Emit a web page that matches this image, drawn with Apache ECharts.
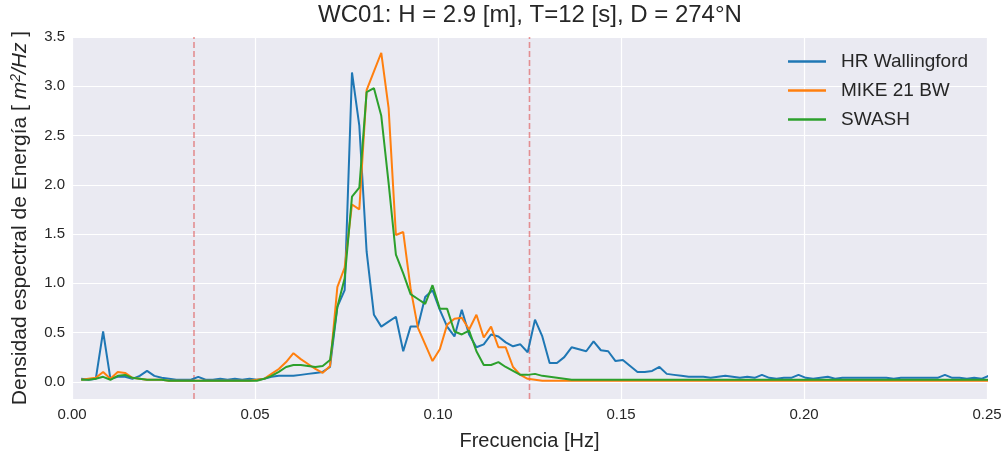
<!DOCTYPE html>
<html>
<head>
<meta charset="utf-8">
<script src="https://cdn.jsdelivr.net/npm/echarts@6/dist/echarts.min.js"></script>
<style>html,body{margin:0;padding:0;background:#fff;}#c{width:1008px;height:456px;}</style>
</head>
<body>
<div id="c"></div>
<script>
// Frequencies [Hz]
var freq = [0.0025,0.0045,0.0065,0.0085,0.0105,0.0125,0.0145,0.0165,0.0185,0.0205,
0.0225,0.0245,0.0265,0.0285,0.0305,0.0325,0.0345,0.0365,0.0385,0.0405,
0.0425,0.0445,0.0465,0.0485,0.0505,0.0525,0.0545,0.0565,0.0585,0.0605,
0.0625,0.0645,0.0665,0.0685,0.0705,0.0725,0.0745,0.0765,0.0785,0.0805,
0.0825,0.0845,0.0865,0.0885,0.0905,0.0925,0.0945,0.0965,0.0985,0.1005,
0.1025,0.1045,0.1065,0.1085,0.1105,0.1125,0.1145,0.1165,0.1185,0.1205,
0.1225,0.1245,0.1265,0.1285,0.1305,0.1325,0.1345,0.1365,0.1385,0.1405,
0.1425,0.1445,0.1465,0.1485,0.1505,0.1525,0.1545,0.1565,0.1585,0.1605,
0.1625,0.1645,0.1665,0.1685,0.1705,0.1725,0.1745,0.1765,0.1785,0.1805,
0.1825,0.1845,0.1865,0.1885,0.1905,0.1925,0.1945,0.1965,0.1985,0.2005,
0.2025,0.2045,0.2065,0.2085,0.2105,0.2125,0.2145,0.2165,0.2185,0.2205,
0.2225,0.2245,0.2265,0.2285,0.2305,0.2325,0.2345,0.2365,0.2385,0.2405,
0.2425,0.2445,0.2465,0.2485,0.2505];

// HR Wallingford
var hrWallingford = [0.03,0.02,0.03,0.51,0.03,0.05,0.05,0.03,0.06,0.11,
0.06,0.04,0.03,0.02,0.02,0.02,0.05,0.02,0.02,0.03,
0.02,0.03,0.02,0.03,0.02,0.03,0.05,0.06,0.06,0.06,
0.07,0.08,0.09,0.10,0.15,0.76,0.93,3.14,2.60,1.32,
0.68,0.56,0.61,0.66,0.31,0.56,0.56,0.86,0.93,0.73,
0.56,0.46,0.73,0.48,0.35,0.38,0.48,0.46,0.40,0.36,
0.38,0.30,0.63,0.46,0.19,0.19,0.25,0.35,0.33,0.31,
0.41,0.32,0.31,0.21,0.22,0.16,0.10,0.10,0.11,0.15,
0.08,0.07,0.06,0.05,0.05,0.05,0.04,0.05,0.06,0.05,
0.04,0.05,0.04,0.07,0.04,0.03,0.04,0.04,0.07,0.04,
0.03,0.04,0.05,0.03,0.04,0.04,0.04,0.04,0.04,0.04,
0.04,0.03,0.04,0.04,0.04,0.04,0.04,0.04,0.07,0.04,
0.04,0.03,0.04,0.03,0.06];

// MIKE 21 BW
var mike21bw = [0.02,0.03,0.04,0.10,0.03,0.10,0.09,0.04,0.03,0.02,
0.02,0.02,0.01,0.01,0.01,0.01,0.01,0.01,0.01,0.01,
0.01,0.01,0.01,0.01,0.02,0.03,0.08,0.13,0.20,0.29,
0.23,0.18,0.13,0.09,0.16,0.96,1.16,1.80,1.75,2.96,
3.15,3.34,2.78,1.49,1.52,0.95,0.55,0.38,0.21,0.33,
0.58,0.64,0.65,0.53,0.68,0.45,0.56,0.35,0.35,0.15,
0.07,0.03,0.02,0.01,0.01,0.01,0.01,0.01,0.01,0.01,
0.01,0.01,0.01,0.01,0.01,0.01,0.01,0.01,0.01,0.01,
0.01,0.01,0.01,0.01,0.01,0.01,0.01,0.01,0.01,0.01,
0.01,0.01,0.01,0.01,0.01,0.01,0.01,0.01,0.01,0.01,
0.01,0.01,0.01,0.01,0.01,0.01,0.01,0.01,0.01,0.01,
0.01,0.01,0.01,0.01,0.01,0.01,0.01,0.01,0.01,0.01,
0.01,0.01,0.01,0.01,0.01];

// SWASH
var swash = [0.02,0.02,0.03,0.05,0.02,0.06,0.07,0.04,0.03,0.02,
0.02,0.02,0.01,0.01,0.01,0.01,0.01,0.01,0.01,0.01,
0.01,0.01,0.01,0.01,0.01,0.03,0.06,0.10,0.15,0.17,
0.17,0.16,0.15,0.16,0.22,0.76,1.05,1.88,1.97,2.94,
2.98,2.70,2.02,1.29,1.10,0.89,0.84,0.79,0.98,0.74,
0.74,0.51,0.48,0.52,0.31,0.17,0.17,0.20,0.15,0.11,
0.07,0.07,0.08,0.06,0.05,0.04,0.03,0.02,0.02,0.02,
0.02,0.02,0.02,0.02,0.02,0.02,0.02,0.02,0.02,0.02,
0.02,0.02,0.02,0.02,0.02,0.02,0.02,0.02,0.02,0.02,
0.02,0.02,0.02,0.02,0.02,0.02,0.02,0.02,0.02,0.02,
0.02,0.02,0.02,0.02,0.02,0.02,0.02,0.02,0.02,0.02,
0.02,0.02,0.02,0.02,0.02,0.02,0.02,0.02,0.02,0.02,
0.02,0.02,0.02,0.02,0.02];

var yTicks = [0.0,0.5,1.0,1.5,2.0,2.5,3.0,3.5];
var yRange = [-0.175, 3.5];
var cutoffFreqs = [1/30, 0.125];
var seriesNames = ['HR Wallingford','MIKE 21 BW','SWASH'];
var seriesColors = ['#1f77b4','#ff7f0e','#2ca02c'];

function pairs(vals){ return vals.map(function(v,i){ return [freq[i], v]; }); }

var FONT = "'Liberation Sans', Arial, sans-serif";
var TXT = '#262626';

var chart = echarts.init(document.getElementById('c'), null, {renderer:'canvas'});
var dataSets = [hrWallingford, mike21bw, swash];
var series = [];
cutoffFreqs.forEach(function(f, j){
  series.push({
    name: 'cutoff' + j, type: 'line', data: [[f, yRange[0]], [f, yRange[1]]],
    symbol: 'none', silent: true, z: 2, animation: false,
    lineStyle: {color: 'rgba(222,80,80,0.6)', type: [6,3], width: 1.6}
  });
});
dataSets.forEach(function(d, i){
  series.push({
    name: seriesNames[i], type: 'line', data: pairs(d), symbol: 'none',
    lineStyle: {width: 2, color: seriesColors[i]}, itemStyle: {color: seriesColors[i]},
    z: 3 + i, animation: false
  });
});

chart.setOption({
  backgroundColor: '#ffffff',
  animation: false,
  textStyle: {fontFamily: FONT},
  title: {
    text: 'WC01: H = 2.9 [m], T=12 [s], D = 274°N',
    left: 530, top: 3, textAlign: 'center', padding: 0,
    textStyle: {fontFamily: FONT, fontSize: 24, fontWeight: 'normal', color: TXT}
  },
  legend: {
    orient: 'vertical', left: 788, top: 52, padding: 0,
    itemWidth: 38, itemHeight: 2.5, itemGap: 10, icon: 'rect',
    textStyle: {fontFamily: FONT, fontSize: 19, color: TXT, padding: [0,0,0,10]},
    data: seriesNames.map(function(n){ return {name: n, icon: 'rect'}; })
  },
  grid: {left: 72, right: 21, top: 37, bottom: 48, show: true, backgroundColor: '#EAEAF2', borderWidth: 0, containLabel: false},
  xAxis: {
    type: 'value', min: 0, max: 0.25, interval: 0.05,
    name: 'Frecuencia [Hz]', nameLocation: 'middle', nameGap: 32,
    nameTextStyle: {fontFamily: FONT, fontSize: 20, color: TXT},
    axisLine: {show: false}, axisTick: {show: false},
    axisLabel: {fontFamily: FONT, fontSize: 15, color: TXT, margin: 8, formatter: function(v){ return v.toFixed(2); }},
    splitLine: {show: true, lineStyle: {color: '#ffffff', width: 1.2}}
  },
  yAxis: {
    type: 'value', min: yRange[0], max: yRange[1],
    name: '{a|Densidad espectral de Energía [ }{i|m}{s|2}{i|/Hz}{a| ]}',
    nameLocation: 'middle', nameGap: 40, nameRotate: 90,
    nameTextStyle: {
      fontFamily: FONT, fontSize: 21, color: TXT,
      rich: {
        a: {fontFamily: FONT, fontSize: 21, color: TXT},
        i: {fontFamily: FONT, fontSize: 21, fontStyle: 'italic', color: TXT},
        s: {fontFamily: FONT, fontSize: 14, fontStyle: 'italic', color: TXT, padding: [0,0,9,0]}
      }
    },
    axisLine: {show: false},
    axisTick: {show: false, customValues: yTicks},
    axisLabel: {fontFamily: FONT, fontSize: 15, color: TXT, margin: 7, customValues: yTicks, formatter: function(v){ return v.toFixed(1); }},
    splitLine: {show: true, lineStyle: {color: '#ffffff', width: 1.2}}
  },
  series: series
});
</script>
</body>
</html>
